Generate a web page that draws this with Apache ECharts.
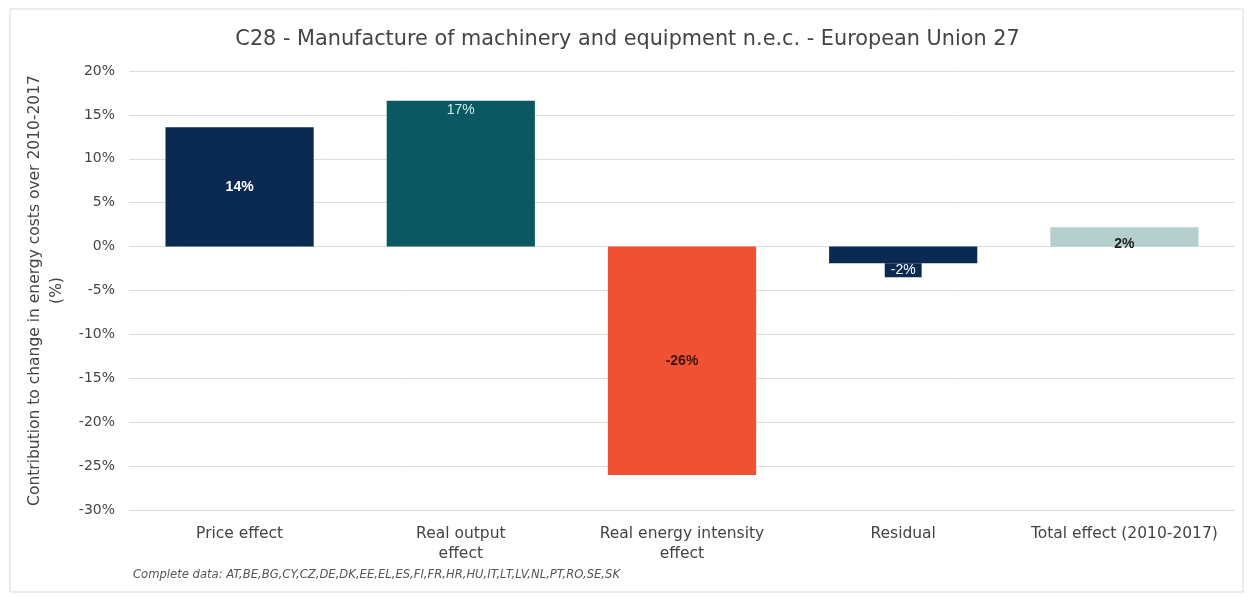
<!DOCTYPE html>
<html><head><meta charset="utf-8">
<script src="https://cdn.jsdelivr.net/npm/echarts@6/dist/echarts.min.js"></script>
<style>html,body{margin:0;padding:0;background:#fff}#c{width:1255px;height:597px}</style>
</head><body><div id="c"></div>
<script>
const title = 'C28 - Manufacture of machinery and equipment n.e.c. - European Union 27';
const categories = ['Price effect', 'Real output\neffect', 'Real energy intensity\neffect', 'Residual', 'Total effect (2010-2017)'];
const values = [13.6, 16.6, -26.0, -1.9, 2.2];
const labels = ['14%', '17%', '-26%', '-2%', '2%'];
const colors = ['#0b2a52', '#0a5862', '#ef5132', '#0b2a52', '#b5cfcf'];
const yTicks = {min: -30, max: 20, interval: 5};
const yName = 'Contribution to change in energy costs over 2010-2017\n(%)';
const footnote = 'Complete data: AT,BE,BG,CY,CZ,DE,DK,EE,EL,ES,FI,FR,HR,HU,IT,LT,LV,NL,PT,RO,SE,SK';

const font = 'DejaVu Sans';
const lblFont = 'Liberation Sans';
const labelStyles = [
  {position: 'inside', color: '#ffffff', fontSize: 14, fontWeight: 'bold'},
  {position: 'insideTop', distance: 2, color: '#cfeaea', fontSize: 14},
  {position: 'inside', color: '#3a1408', fontSize: 14, fontWeight: 'bold'},
  {position: 'bottom', distance: 0, color: '#ffffff', fontSize: 14, backgroundColor: '#0b2a52', padding: [0, 6, 0, 6]},
  {position: 'insideBottom', distance: -5, color: '#222222', fontSize: 14, fontWeight: 'bold'}
];

const chart = echarts.init(document.getElementById('c'), null, {renderer: 'canvas'});
chart.setOption({
  animation: false,
  backgroundColor: '#ffffff',
  title: {text: title, left: 'center', top: 24, textStyle: {fontFamily: font, fontSize: 20.8, fontWeight: 'normal', color: '#444'}},
  graphic: [
    {type: 'rect', shape: {x: 10, y: 9, width: 1233, height: 583}, style: {fill: 'none', stroke: '#d9d9d9', lineWidth: 1}, silent: true},
    {type: 'text', left: 133, top: 569, style: {text: footnote, fontFamily: font, fontStyle: 'italic', fontSize: 11.6, fill: '#555'}}
  ],
  grid: {left: 129, right: 20, top: 71, bottom: 87},
  xAxis: {
    type: 'category', data: categories,
    axisLine: {show: false}, axisTick: {show: false},
    axisLabel: {interval: 0, margin: 14, fontFamily: font, fontSize: 15.5, color: '#444', lineHeight: 20}
  },
  yAxis: {
    type: 'value', min: yTicks.min, max: yTicks.max, interval: yTicks.interval,
    name: yName, nameLocation: 'middle', nameGap: 54, nameRotate: 90,
    nameTextStyle: {fontFamily: font, fontSize: 15.5, color: '#444', lineHeight: 22},
    axisLine: {show: false}, axisTick: {show: false},
    axisLabel: {formatter: '{value}%', fontFamily: font, fontSize: 14, color: '#444', margin: 14},
    splitLine: {lineStyle: {color: '#dcdcdc', width: 1}}
  },
  series: [{
    type: 'bar', barWidth: '67%',
    data: values.map((v, i) => ({
      value: v,
      itemStyle: {color: colors[i]},
      label: Object.assign({show: true, formatter: labels[i], fontFamily: lblFont}, labelStyles[i])
    }))
  }]
});
</script></body></html>
